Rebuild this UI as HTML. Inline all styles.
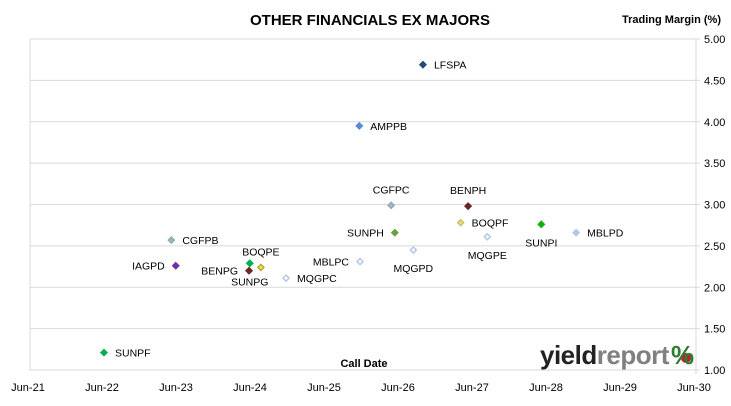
<!DOCTYPE html>
<html><head><meta charset="utf-8"><style>
body{margin:0;background:#fff;font-family:"Liberation Sans",Arial,sans-serif}
svg text{font-family:"Liberation Sans",Arial,sans-serif}
</style></head><body>
<svg id="chart" width="731" height="401" viewBox="0 0 731 401">
<rect width="731" height="401" fill="#fff"/>
<text x="370" y="25" text-anchor="middle" font-size="15" font-weight="bold">OTHER FINANCIALS EX MAJORS</text>
<text x="622" y="23" font-size="11" font-weight="bold">Trading Margin (%)</text>
<text x="364" y="367" text-anchor="middle" font-size="11" font-weight="bold">Call Date</text>
<g id="grid"></g><g id="marks"></g>
<g>
<text x="540" y="364" font-size="26" font-weight="bold" fill="#222" letter-spacing="-0.5">yield<tspan fill="#808080">report</tspan></text>
<circle cx="686" cy="358" r="5" fill="#c0202a"/>
<text x="671" y="364" font-size="26" font-weight="bold" fill="#2e7d32">%</text>
</g>
</svg>
<script>
const names=["LFSPA","AMPPB","CGFPC","BENPH","BOQPF","SUNPH","MQGPD","MQGPE","SUNPI","MBLPD","MBLPC","MQGPC","BOQPE","SUNPG","BENPG","IAGPD","CGFPB","SUNPF"];
const callDates=[2026.81,2025.95,2026.38,2027.42,2027.32,2026.43,2026.68,2027.68,2028.41,2028.88,2025.96,2024.96,2024.62,2024.47,2024.46,2023.47,2023.41,2022.50];
const margins=[4.69,3.95,2.99,2.98,2.78,2.66,2.45,2.61,2.76,2.66,2.31,2.11,2.24,2.29,2.20,2.26,2.57,1.21];
const yTicks=[1.00,1.50,2.00,2.50,3.00,3.50,4.00,4.50,5.00];
const xTickLabels=["Jun-21","Jun-22","Jun-23","Jun-24","Jun-25","Jun-26","Jun-27","Jun-28","Jun-29","Jun-30"];
const xTickYears=[2021.5,2022.5,2023.5,2024.5,2025.5,2026.5,2027.5,2028.5,2029.5,2030.5];
const fills=["#1f4e79","#5b8bd0","#a9c08a","#6b2626","#f2e640","#6aa043","#fff","#fff","#10b010","#b4c7e7","#fff","#fff","#f2e640","#00b050","#6b2626","#7030a0","#a9c08a","#00b050"];
const strokes=["#1f4e79","#5b8bd0","#8fa9c8","#6b2626","#c8c080","#6aa043","#b4c7e7","#b4c7e7","#10b010","#b4c7e7","#b4c7e7","#b4c7e7","#b8a830","#00b050","#6b2626","#7030a0","#8fa9c8","#00b050"];
const labelPlace=["r","r","a","a","r","l","b","b","b","r","l","r","a","b","l","l","r","r"];
const X0=30,X1=696,Y0=370,Y1=39;
const xs=v=>X0+(v-2021.5)/(2030.5-2021.5)*(X1-X0);
const ys=v=>Y0-(v-1)/(5-1)*(Y0-Y1);
const NS="http://www.w3.org/2000/svg";
const grid=document.getElementById('grid'),marks=document.getElementById('marks');
function mk(t,a,p){const e=document.createElementNS(NS,t);for(const k in a)e.setAttribute(k,a[k]);p.appendChild(e);return e;}
yTicks.forEach((t,i)=>{
 const y=ys(t);
 const l=mk('line',{x1:X0,x2:X1+4,y1:y,y2:y,stroke:'#d9d9d9','stroke-width':1},grid);
 
 
 const tx=mk('text',{x:X1+8,y:y+4,'font-size':11},grid);tx.textContent=t.toFixed(2);
 
 
});
const ax=mk('line',{x1:X0,x2:X0,y1:Y1,y2:Y0,stroke:'#d9d9d9'},grid);


const ax2=mk('line',{x1:X1,x2:X1,y1:Y1,y2:Y0+4,stroke:'#d9d9d9'},grid);


xTickLabels.forEach((t,i)=>{
 const tx=mk('text',{x:xs(xTickYears[i])-2,y:391,'font-size':11,'text-anchor':'middle'},grid);tx.textContent=t;
 
 
});
names.forEach((n,i)=>{
 const x=xs(callDates[i]),y=ys(margins[i]);
 const s=3;
 const d=mk('polygon',{points:`${x},${y-s} ${x+s},${y} ${x},${y+s} ${x-s},${y}`,fill:fills[i],stroke:strokes[i],'stroke-width':1.5},marks);
 
 
 let lx=x,ly=y+4,anc='middle';
 const p=labelPlace[i];
 if(p==='r'){lx=x+11;anc='start';}
 else if(p==='l'){lx=x-11;anc='end';}
 else if(p==='a'){ly=y-12;}
 else if(p==='b'){ly=y+22;}
 const tx=mk('text',{x:lx,y:ly,'font-size':10.5,'text-anchor':anc},marks);tx.textContent=n;
 
 
});
</script>
</body></html>
